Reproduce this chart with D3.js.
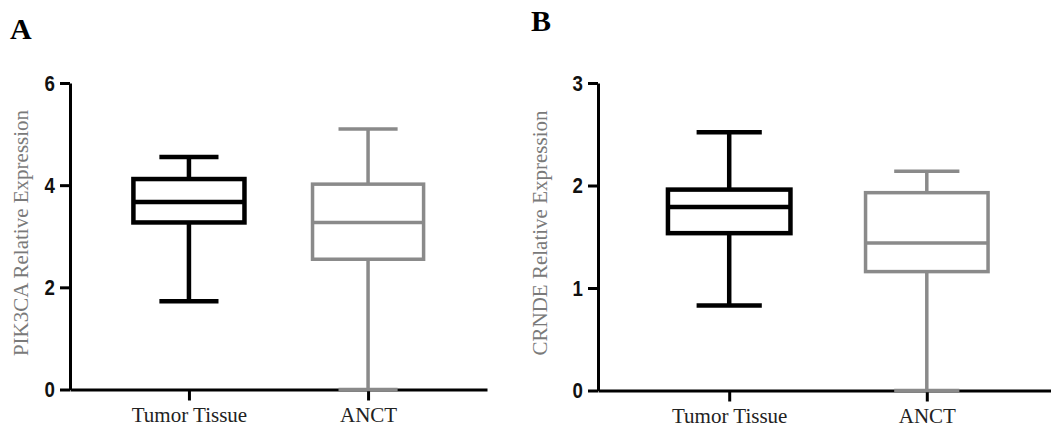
<!DOCTYPE html>
<html>
<head>
<meta charset="utf-8">
<script src="https://cdn.jsdelivr.net/npm/d3@7"></script>
<style>
  html, body { margin: 0; padding: 0; background: #fff; }
  svg { display: block; }
</style>
</head>
<body>
<svg id="chart" width="1051" height="429"></svg>
<script>
// ---- data ----
const categories = ["Tumor Tissue", "ANCT"];
// five-number summaries: [min, q1, median, q3, max]
const pik3caTumor = [1.73, 3.27, 3.67, 4.12, 4.55];
const pik3caANCT  = [0.00, 2.55, 3.27, 4.02, 5.10];
const crndeTumor  = [0.83, 1.535, 1.79, 1.96, 2.52];
const crndeANCT   = [0.00, 1.16, 1.44, 1.93, 2.14];
const pik3caTicks = [0, 2, 4, 6];
const crndeTicks  = [0, 1, 2, 3];
const panelLetters = ["A", "B"];
const yTitles = ["PIK3CA Relative Expression", "CRNDE Relative Expression"];

const seriesColors = ["#000000", "#8a8a8a"];
const seriesWidths = [4.5, 3.5];

const svg = d3.select("#chart");

const panels = [
  { letter: panelLetters[0], letterX: 10, letterY: 39, title: yTitles[0], titleX: 28,
    axisX: 70, xEnd: 487, yTop: 83, yBottom: 389.5, domain: [0, 6], ticks: pik3caTicks,
    boxes: [pik3caTumor, pik3caANCT] },
  { letter: panelLetters[1], letterX: 531, letterY: 31, title: yTitles[1], titleX: 547,
    axisX: 598, xEnd: 1058, yTop: 83, yBottom: 390.5, domain: [0, 3], ticks: crndeTicks,
    boxes: [crndeTumor, crndeANCT] }
];

panels.forEach(p => {
  const g = svg.append("g");
  const y = d3.scaleLinear().domain(p.domain).range([p.yBottom, p.yTop]);
  const x = d3.scalePoint().domain(categories).range([p.axisX, p.xEnd]).padding(0.664);
  const step = x.step();

  // panel letter
  g.append("text")
    .attr("x", p.letterX).attr("y", p.letterY)
    .attr("font-family", "'Liberation Serif', 'Times New Roman', serif")
    .attr("font-weight", "bold").attr("font-size", 30).attr("fill", "#000")
    .text(p.letter);

  // y title
  g.append("text")
    .attr("transform", `translate(${p.titleX},${233}) rotate(-90)`)
    .attr("text-anchor", "middle")
    .attr("font-family", "'Liberation Serif', 'Times New Roman', serif")
    .attr("font-size", 21).attr("fill", "#7a7a7a")
    .text(p.title);

  // y axis
  const yAxis = g.append("g")
    .attr("transform", `translate(${p.axisX},0)`)
    .call(d3.axisLeft(y).tickValues(p.ticks).tickSize(10).tickSizeOuter(0).tickFormat(d3.format("d")));
  yAxis.select(".domain").attr("stroke", "#000").attr("stroke-width", 3);
  yAxis.selectAll(".tick line").attr("stroke", "#000").attr("stroke-width", 3);
  yAxis.selectAll(".tick text")
    .attr("x", 0)
    .attr("transform", "translate(-15,0) scale(0.85,1)")
    .attr("font-family", "'Liberation Sans', Arial, sans-serif")
    .attr("font-weight", "bold").attr("font-size", 22).attr("fill", "#111");

  // x axis
  const xAxis = g.append("g")
    .attr("transform", `translate(0,${p.yBottom})`)
    .call(d3.axisBottom(x).tickSize(11).tickSizeOuter(0).tickPadding(7));
  xAxis.select(".domain").attr("stroke", "#000").attr("stroke-width", 3);
  xAxis.selectAll(".tick line").attr("stroke", "#000").attr("stroke-width", 3);
  xAxis.selectAll(".tick text")
    .attr("font-family", "'Liberation Serif', 'Times New Roman', serif")
    .attr("font-size", 21).attr("fill", "#222");

  // boxes
  const boxW = step * 0.62;
  const capW = step * 0.33;
  p.boxes.forEach((b, i) => {
    const cx = x(categories[i]);
    const col = seriesColors[i];
    const sw = seriesWidths[i];
    const bg = g.append("g").attr("fill", "none").attr("stroke", col).attr("stroke-width", sw);
    // whiskers
    bg.append("line").attr("x1", cx).attr("x2", cx).attr("y1", y(b[3])).attr("y2", y(b[4]));
    bg.append("line").attr("x1", cx).attr("x2", cx).attr("y1", y(b[1])).attr("y2", y(b[0]));
    // caps
    bg.append("line").attr("x1", cx - capW / 2).attr("x2", cx + capW / 2).attr("y1", y(b[4])).attr("y2", y(b[4]));
    bg.append("line").attr("x1", cx - capW / 2).attr("x2", cx + capW / 2).attr("y1", y(b[0])).attr("y2", y(b[0]));
    // box
    bg.append("rect")
      .attr("x", cx - boxW / 2).attr("width", boxW)
      .attr("y", y(b[3])).attr("height", y(b[1]) - y(b[3]))
      .attr("fill", "#fff");
    // median
    bg.append("line").attr("x1", cx - boxW / 2).attr("x2", cx + boxW / 2).attr("y1", y(b[2])).attr("y2", y(b[2]));
  });
});
</script>
</body>
</html>
